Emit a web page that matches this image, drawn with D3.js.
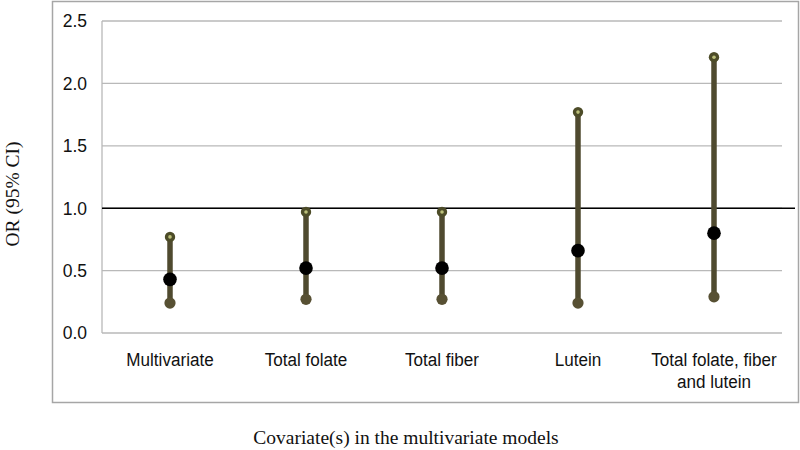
<!DOCTYPE html>
<html><head><meta charset="utf-8">
<script src="https://cdn.jsdelivr.net/npm/d3@7"></script>
<style>body{margin:0;background:#fff}</style>
</head><body>
<svg id="c" width="800" height="450"></svg>
<script>
const categories = ["Multivariate", "Total folate", "Total fiber", "Lutein", "Total folate, fiber|and lutein"];
const orValues = [0.43, 0.52, 0.52, 0.66, 0.80];
const lowerCI = [0.24, 0.27, 0.27, 0.24, 0.29];
const upperCI = [0.77, 0.97, 0.97, 1.77, 2.21];
const yTicks = [0, 0.5, 1.0, 1.5, 2.0, 2.5];
const refValue = 1.0;

const svg = d3.select("#c");
const L = 102, R = 782, T = 21, B = 333;
const x = d3.scaleBand().domain(categories).range([L, R]);
const y = d3.scaleLinear().domain([0, 2.5]).range([B, T]);

// outer frame
svg.append("rect").attr("x", 52.5).attr("y", 1.5).attr("width", 746).attr("height", 401)
  .attr("fill", "none").attr("stroke", "#a6a6a6").attr("stroke-width", 1.5);

// gridlines
svg.append("g").selectAll("line").data(yTicks).join("line")
  .attr("x1", L).attr("x2", R).attr("y1", d => y(d)).attr("y2", d => y(d))
  .attr("stroke", "#b9b9b9").attr("stroke-width", 1.3);
svg.append("line").attr("x1", L).attr("x2", L).attr("y1", T).attr("y2", B)
  .attr("stroke", "#b9b9b9").attr("stroke-width", 1.3);

// y tick labels
svg.append("g").selectAll("text").data(yTicks).join("text")
  .attr("x", 87).attr("y", d => y(d)).attr("dy", "0.36em").attr("text-anchor", "end")
  .attr("font-family", "Liberation Sans, Arial, sans-serif").attr("font-size", 17.5).attr("fill", "#111")
  .text(d => d3.format(".1f")(d));

// reference line
svg.append("line").attr("x1", L).attr("x2", 795).attr("y1", y(refValue)).attr("y2", y(refValue))
  .attr("stroke", "#000").attr("stroke-width", 1.4);

// CI lines
const cx = (d) => x(d) + x.bandwidth() / 2;
const g = svg.append("g");
categories.forEach((c, i) => {
  g.append("line").attr("x1", cx(c)).attr("x2", cx(c)).attr("y1", y(lowerCI[i])).attr("y2", y(upperCI[i]))
    .attr("stroke", "#4f4a2f").attr("stroke-width", 5.5);
  g.append("circle").attr("cx", cx(c)).attr("cy", y(upperCI[i])).attr("r", 5.2).attr("fill", "#4d4c28");
  g.append("circle").attr("cx", cx(c)).attr("cy", y(upperCI[i])).attr("r", 1.8).attr("fill", "#bcc07a");
  g.append("circle").attr("cx", cx(c)).attr("cy", y(lowerCI[i])).attr("r", 5.6).attr("fill", "#575033");
  g.append("circle").attr("cx", cx(c)).attr("cy", y(orValues[i])).attr("r", 6.8).attr("fill", "#000");
});

// category labels
const cl = svg.append("g");
categories.forEach(c => {
  const lines = c.split("|");
  lines.forEach((ln, k) => {
    cl.append("text").attr("text-anchor", "middle")
      .attr("transform", `translate(${cx(c)},${366 + k * 22}) scale(0.9,1)`)
      .attr("font-family", "Liberation Sans Narrow, Arial Narrow, Liberation Sans, sans-serif")
      .attr("font-size", 19).attr("fill", "#111").text(ln);
  });
});

// axis titles
svg.append("text").attr("x", 406).attr("y", 444).attr("text-anchor", "middle")
  .attr("font-family", "Liberation Serif, Times New Roman, serif").attr("font-size", 19.5).attr("fill", "#111")
  .text("Covariate(s) in the multivariate models");
svg.append("text").attr("transform", "translate(19,194) rotate(-90)").attr("text-anchor", "middle")
  .attr("font-family", "Liberation Serif, Times New Roman, serif").attr("font-size", 19.5).attr("fill", "#111")
  .text("OR (95% CI)");
</script>
</body></html>
